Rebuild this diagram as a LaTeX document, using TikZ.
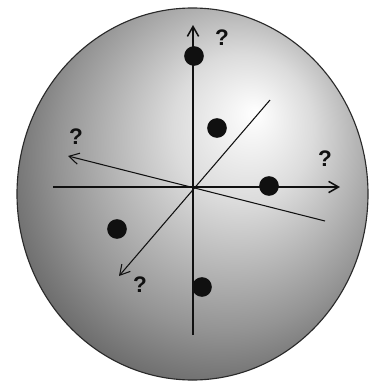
\documentclass[tikz,border=0pt]{standalone}
\usepackage{fontspec}
\setmainfont{Liberation Sans}
\usepackage{tikz}
\usetikzlibrary{arrows.meta}
\definecolor{rim}{HTML}{2A2A2A}
\definecolor{ink}{HTML}{101010}
\pgfdeclareradialshading{globe}{\pgfqpoint{9bp}{11bp}}{%
  color(0bp)=(white); color(10bp)=(white!86!black);
  color(24bp)=(white!58!black); color(36bp)=(white!30!black);
  color(50bp)=(white!22!black)}

\begin{document}
\begin{tikzpicture}[x=0.025cm, y=-0.025cm,
  axis/.style={draw=ink, line width=1.1pt},
  tilt/.style={draw=ink, line width=0.75pt},
  tip/.style={-{Straight Barb[length=7pt,width=8pt]}},
  dot/.style={circle, fill=ink, inner sep=0pt, minimum size=14pt},
  ask/.style={font={\fontsize{16}{19}\selectfont\bfseries}, text=ink},
]
\useasboundingbox (0,0) rectangle (370,382);
\shade[shading=globe, draw=rim, line width=0.8pt] (192.5,194) ellipse [x radius=175.5, y radius=186];
% axes
\coordinate (o) at (193,187);
\coordinate (top) at (193,25);
\coordinate (bot) at (193,335);
\coordinate (west) at (53,187);
\coordinate (east) at (340,187);
\coordinate (ne) at (270,100);
\coordinate (sw) at (119,276);
\coordinate (nw) at (68,156);
\coordinate (se) at (325,221);
\draw[axis, tip] (bot) -- (top);
\draw[axis, tip] (west) -- (east);
\draw[tilt, tip] (ne) -- (sw);
\draw[tilt, tip] (se) -- (nw);
% points
\node[dot] (p1) at (194,56) {};
\node[dot] (p2) at (217,128) {};
\node[dot] (p3) at (269,186) {};
\node[dot] (p4) at (117,229) {};
\node[dot] (p5) at (202,287) {};
% unknown directions
\node[ask] (q1) at (222,38) {?};
\node[ask] (q2) at (76,137) {?};
\node[ask] (q3) at (325,159) {?};
\node[ask] (q4) at (140,285) {?};
\end{tikzpicture}
\end{document}
